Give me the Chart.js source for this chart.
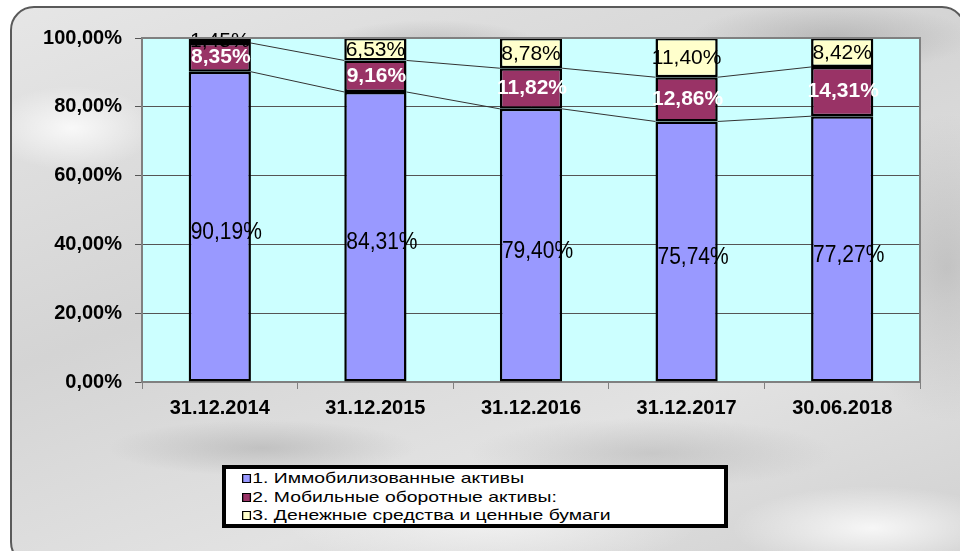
<!DOCTYPE html>
<html>
<head>
<meta charset="utf-8">
<script src="https://cdn.jsdelivr.net/npm/chart.js@4"></script>
<style>
    body { margin: 0; background: #ffffff; }
    #wrap { position: relative; width: 960px; height: 551px; overflow: hidden; }
    /* marble-like panel behind the chart */
    #panel {
        position: absolute; left: 10px; top: 6px; width: 956px; height: 560px;
        border: 2px solid #5a5a5a; border-radius: 24px;
        background:
            radial-gradient(ellipse 160px 40px at 420px 40px, rgba(150,150,150,0.45), rgba(150,150,150,0) 70%),
            radial-gradient(ellipse 200px 50px at 820px 30px, rgba(140,140,140,0.4), rgba(140,140,140,0) 70%),
            radial-gradient(ellipse 120px 60px at 60px 120px, rgba(255,255,255,0.8), rgba(255,255,255,0) 70%),
            radial-gradient(ellipse 220px 40px at 250px 440px, rgba(160,160,160,0.45), rgba(160,160,160,0) 70%),
            radial-gradient(ellipse 260px 50px at 640px 445px, rgba(165,165,165,0.4), rgba(165,165,165,0) 70%),
            radial-gradient(ellipse 200px 60px at 860px 520px, rgba(255,255,255,0.8), rgba(255,255,255,0) 70%),
            radial-gradient(ellipse 140px 220px at 935px 260px, rgba(150,150,150,0.4), rgba(150,150,150,0) 70%),
            radial-gradient(ellipse 300px 80px at 480px 510px, rgba(250,250,250,0.7), rgba(250,250,250,0) 70%),
            linear-gradient(160deg, #e6e6e6 0%, #d4d4d4 40%, #e2e2e2 70%, #d0d0d0 100%);
        box-sizing: border-box;
    }
    canvas { position: absolute; left: 0; top: 0; }
    #legend {
        position: absolute; left: 222px; top: 465px; width: 506px; height: 63px;
        box-sizing: border-box; border: 4px solid #000; background: #fff;
        font-family: "Liberation Sans", Arial, sans-serif; font-size: 15px; color: #000;
        overflow: hidden; padding: 0 0 0 16px; line-height: 18.7px;
    }
    .item { white-space: nowrap; transform: scaleX(1.29); transform-origin: left center; }
    .sw { display: inline-block; width: 5px; height: 7px; border: 1px solid #000; margin-right: 1px; vertical-align: 0px; }
</style>
</head>
<body>
<div id="wrap">
    <div id="panel"></div>
    <canvas id="chart" width="960" height="551"></canvas>
    <div id="legend"></div>
</div>
<script>
// ===================================
// Chart data
// ===================================
const DATES = ['31.12.2014', '31.12.2015', '31.12.2016', '31.12.2017', '30.06.2018'];
const SERIES_NAMES = [
    '1. Иммобилизованные активы',
    '2. Мобильные оборотные активы:',
    '3. Денежные средства и ценные бумаги'
];
const FIXED_ASSETS = [90.19, 84.31, 79.40, 75.74, 77.27];
const CURRENT_ASSETS = [8.35, 9.16, 11.82, 12.86, 14.31];
const CASH_SECURITIES = [1.45, 6.53, 8.78, 11.40, 8.42];
const Y_TICKS = [0, 20, 40, 60, 80, 100];

const COLORS = ['#9999ff', '#993366', '#ffffcc'];
const FONT = '"Liberation Sans", Arial, sans-serif';

function pct(v) {
    return v.toFixed(2).replace('.', ',') + '%';
}

// ===================================
// Plot area background + border
// ===================================
const plotArea = {
    id: 'plotArea',
    beforeDraw(chart) {
        const a = chart.chartArea;
        const ctx = chart.ctx;
        ctx.save();
        ctx.fillStyle = '#ccffff';
        ctx.fillRect(a.left, a.top, a.right - a.left, a.bottom - a.top);
        ctx.restore();
    },
    afterDraw(chart) {
        const a = chart.chartArea;
        const ctx = chart.ctx;
        ctx.save();
        ctx.strokeStyle = '#808080';
        ctx.lineWidth = 2;
        ctx.beginPath();
        ctx.moveTo(a.left, a.top);
        ctx.lineTo(a.right, a.top);
        ctx.lineTo(a.right, a.bottom);
        ctx.stroke();
        ctx.restore();
    }
};

// ===================================
// Series lines between neighbouring bars
// ===================================
const seriesLines = {
    id: 'seriesLines',
    afterDatasetsDraw(chart) {
        const ctx = chart.ctx;
        ctx.save();
        ctx.strokeStyle = '#333333';
        ctx.lineWidth = 1;
        [0, 1].forEach(function (d) {
            const bars = chart.getDatasetMeta(d).data;
            for (let i = 0; i < bars.length - 1; i++) {
                const a = bars[i], b = bars[i + 1];
                ctx.beginPath();
                ctx.moveTo(a.x + a.width / 2, a.y);
                ctx.lineTo(b.x - b.width / 2, b.y);
                ctx.stroke();
            }
        });
        ctx.restore();
    }
};

// ===================================
// Data labels
// ===================================
const barLabels = {
    id: 'barLabels',
    afterDatasetsDraw(chart) {
        const ctx = chart.ctx;
        ctx.save();
        ctx.textBaseline = 'middle';
        chart.data.datasets.forEach(function (ds, d) {
            chart.getDatasetMeta(d).data.forEach(function (bar, i) {
                const mid = (bar.y + bar.base) / 2;
                const text = pct(ds.data[i]);
                if (d === 0) {
                    // a bit taller than wide, like the original
                    ctx.save();
                    ctx.font = '21px ' + FONT;
                    ctx.fillStyle = '#000';
                    ctx.textAlign = 'left';
                    ctx.translate(bar.x - bar.width / 2 + 2, mid + 6);
                    ctx.scale(1, 1.15);
                    ctx.fillText(text, 0, 0);
                    ctx.restore();
                } else if (d === 1) {
                    ctx.font = 'bold 21px ' + FONT;
                    ctx.fillStyle = '#ffffff';
                    ctx.textAlign = 'center';
                    ctx.fillText(text, bar.x + 1, mid);
                } else {
                    ctx.font = '21px ' + FONT;
                    ctx.fillStyle = '#000';
                    ctx.textAlign = 'center';
                    ctx.fillText(text, bar.x, mid + 1);
                }
            });
        });
        ctx.restore();
    }
};

const ctx = document.getElementById('chart').getContext('2d');

new Chart(ctx, {
    type: 'bar',
    data: {
        labels: DATES,
        datasets: [FIXED_ASSETS, CURRENT_ASSETS, CASH_SECURITIES].map(function (vals, k) {
            return {
                label: SERIES_NAMES[k],
                data: vals,
                backgroundColor: COLORS[k],
                borderColor: '#000000',
                borderWidth: 2.5,
                borderSkipped: false,
                categoryPercentage: 1,
                barPercentage: 0.40
            };
        })
    },
    options: {
        responsive: false,
        animation: false,
        layout: { padding: { left: 0, top: 38, right: 40, bottom: 129 } },
        plugins: {
            legend: { display: false },
            tooltip: { enabled: false }
        },
        scales: {
            x: {
                stacked: true,
                afterFit(scale) { scale.height = 40; },
                border: { color: '#808080', width: 2 },
                grid: { offset: true, drawOnChartArea: false, drawTicks: true, tickLength: 7, color: '#808080' },
                ticks: { color: '#000', padding: 7, font: { family: FONT, size: 20, weight: 'bold' } }
            },
            y: {
                stacked: true,
                min: 0,
                max: 100,
                afterFit(scale) { scale.width = 142; },
                afterBuildTicks(scale) { scale.ticks = Y_TICKS.map(function (v) { return { value: v }; }); },
                border: { color: '#808080', width: 2 },
                grid: { color: '#555555', lineWidth: 1, tickLength: 7 },
                ticks: {
                    color: '#000',
                    padding: 13,
                    font: { family: FONT, size: 20, weight: 'bold' },
                    callback: function (v) { return pct(v); }
                }
            }
        }
    },
    plugins: [plotArea, seriesLines, barLabels]
});

// ===================================
// Legend (plain HTML box)
// ===================================
const legend = document.getElementById('legend');
SERIES_NAMES.forEach(function (name, k) {
    const row = document.createElement('div');
    row.className = 'item';
    const sw = document.createElement('span');
    sw.className = 'sw';
    sw.style.background = COLORS[k];
    row.appendChild(sw);
    row.appendChild(document.createTextNode(name));
    legend.appendChild(row);
});
</script>
</body>
</html>
